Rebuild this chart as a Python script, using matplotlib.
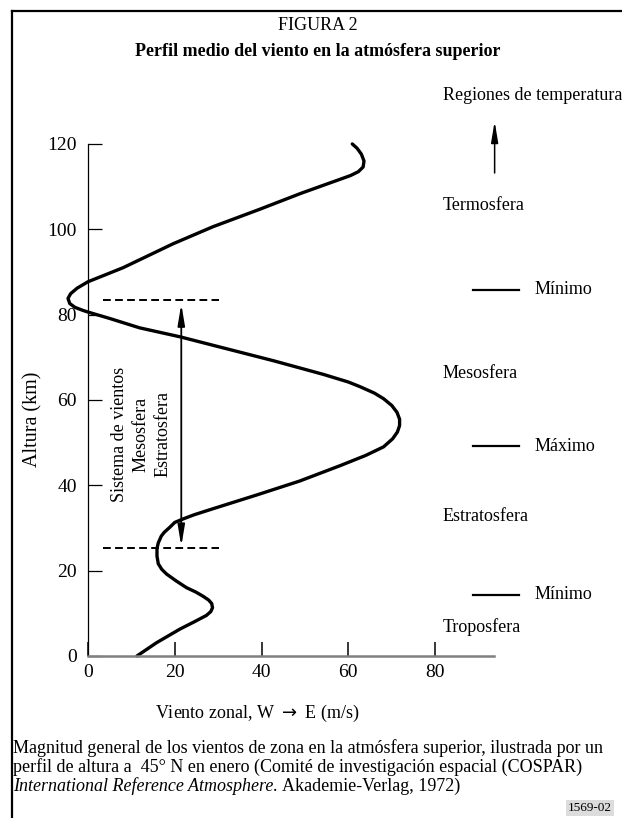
import matplotlib
matplotlib.use("Agg")
import matplotlib.pyplot as plt
from matplotlib.lines import Line2D

plt.rcParams['font.family'] = ['Liberation Serif', 'DejaVu Serif']

# mean zonal wind profile (m/s, W -> E) against height (km), traced from the bottom up
wind = [11.3, 15.8, 21.2, 24.5, 27.3, 28.3, 28.7, 28.5, 27.8, 26.5, 24.8, 22.7,
        20.3, 18.1, 17.0, 16.2, 15.9, 15.9, 16.2, 16.9, 17.6, 18.8, 20.0, 21.9,
        24.5, 28.8, 38.8, 48.8, 58.1, 64.0, 68.1, 70.2, 71.3, 71.8, 71.8, 71.2,
        70.0, 68.1, 66.0, 62.7, 60.0, 54.2, 42.7, 30.4, 21.2, 11.9, 5.0, 0.0,
        -1.2, -3.0, -4.2, -4.6, -4.0, -2.5, 0.0, 8.1, 19.6, 28.8, 39.6, 49.0,
        54.2, 57.5, 60.5, 62.3, 63.4, 63.6, 63.0, 62.0, 60.9]
height = [0.0, 3.1, 6.3, 8.0, 9.5, 10.4, 11.3, 12.3, 13.1, 14.0, 15.0, 16.0,
          17.6, 19.2, 20.3, 21.6, 23.4, 25.2, 26.5, 28.1, 29.0, 30.1, 31.3, 32.1,
          33.1, 34.5, 37.7, 41.0, 44.6, 47.0, 49.0, 50.9, 52.5, 54.0, 55.5, 57.1,
          58.7, 60.3, 61.6, 63.1, 64.2, 66.0, 69.2, 72.4, 74.8, 76.9, 79.1, 80.6,
          81.0, 81.7, 82.6, 83.8, 84.9, 86.2, 87.7, 91.0, 96.6, 100.6, 104.7, 108.4,
          110.3, 111.5, 112.6, 113.5, 114.6, 116.0, 117.6, 119.0, 120.0]

x_ticks = [0, 20, 40, 60, 80]
y_ticks = [0, 20, 40, 60, 80, 100, 120]

# stratosphere/mesosphere wind system limits (km)
system_bottom = 25.3
system_top = 83.5

# temperature regions on the right: (label, height)
regions = [("Termosfera", 105.5), ("Mesosfera", 66.3), ("Estratosfera", 32.6), ("Troposfera", 6.8)]
extremes = [("Mínimo", 85.8), ("Máximo", 49.2), ("Mínimo", 14.3)]

fs = 13

fig = plt.figure(figsize=(6.22, 8.18), dpi=100)
ax = fig.add_axes([0.0577, 0.1564, 0.935, 0.7615])
ax.set_xlim(-12, 122)
ax.set_ylim(-8, 138)
ax.patch.set_visible(False)

for side in ['top', 'right']:
    ax.spines[side].set_visible(False)
ax.spines['left'].set_position(('data', 0))
ax.spines['bottom'].set_position(('data', 0))
ax.spines['left'].set_bounds(0, 120)
ax.spines['bottom'].set_bounds(0, 93.5)
ax.spines['left'].set_linewidth(0.9)
ax.spines['bottom'].set_color('#808080')
ax.spines['bottom'].set_linewidth(1.8)

ax.set_xticks(x_ticks)
ax.set_yticks(y_ticks)
ax.tick_params(axis='x', direction='in', length=10, width=1.1, pad=6, labelsize=14)
ax.tick_params(axis='y', direction='in', length=10, width=0.9, pad=8, labelsize=14)

ax.plot(wind, height, color='black', lw=2.4, solid_joinstyle='round', solid_capstyle='round')

for h in (system_bottom, system_top):
    ax.plot([3.5, 30.2], [h, h], color='black', lw=1.4, ls=(0, (4, 2.2)))
ax.annotate('', xy=(21.5, system_bottom + 0.4), xytext=(21.5, system_top - 1.0),
            arrowprops=dict(arrowstyle='<|-|>,head_length=0.9,head_width=0.15',
                            mutation_scale=14, color='black', lw=1.3, shrinkA=0, shrinkB=0))

for xpos, label in [(7.2, "Sistema de vientos"), (12.2, "Mesosfera"), (17.2, "Estratosfera")]:
    ax.text(xpos, 52, label, rotation=90, ha='center', va='center', fontsize=fs)

ax.text(-12.6, 55.5, "Altura (km)", rotation=90, ha='center', va='center', fontsize=14.5)

# temperature regions column
ax.text(81.7, 131.4, "Regiones de temperatura", ha='left', va='center', fontsize=fs)
ax.annotate('', xy=(93.7, 125.3), xytext=(93.7, 113.2),
            arrowprops=dict(arrowstyle='-|>,head_length=0.9,head_width=0.15',
                            mutation_scale=14, color='black', lw=1.1, shrinkA=0, shrinkB=0))
for label, h in regions:
    ax.text(81.7, h, label, ha='left', va='center', fontsize=fs)
for label, h in extremes:
    ax.plot([88.8, 99.4], [h, h], color='black', lw=1.6, clip_on=False)
    ax.text(102.9, h, label, ha='left', va='center', fontsize=fs)

ax.text(39.0, -13.5, "Viento zonal, W $\\rightarrow$ E (m/s)", ha='center', va='center',
        fontsize=fs)

# frame around the figure
fig.add_artist(Line2D([12 / 622, 1.0], [1 - 11 / 818, 1 - 11 / 818], color='black', lw=1.6))
fig.add_artist(Line2D([12 / 622, 12 / 622], [0.0, 1 - 11 / 818], color='black', lw=1.6))

fig.text(318 / 622, 1 - 25 / 818, "FIGURA 2", ha='center', va='center', fontsize=fs)
fig.text(318 / 622, 1 - 52 / 818, "Perfil medio del viento en la atmósfera superior",
         ha='center', va='center', fontsize=fs, fontweight='bold')

cap_x = 13 / 622
fig.text(cap_x, 1 - 748 / 818,
         "Magnitud general de los vientos de zona en la atmósfera superior, ilustrada por un",
         ha='left', va='center', fontsize=fs)
fig.text(cap_x, 1 - 767 / 818,
         "perfil de altura a  45° N en enero (Comité de investigación espacial (COSPAR)",
         ha='left', va='center', fontsize=fs)
t_it = fig.text(cap_x, 1 - 786 / 818, "International Reference Atmosphere.",
                ha='left', va='center', fontsize=fs, style='italic')
renderer = fig.canvas.get_renderer()
bb = t_it.get_window_extent(renderer=renderer)
fig.text(bb.x1 / fig.bbox.width + 4 / 622, 1 - 786 / 818, "Akademie-Verlag, 1972)",
         ha='left', va='center', fontsize=fs)

fig.text(612 / 622, 1 - 808 / 818, "1569-02", ha='right', va='center', fontsize=9.5,
         bbox=dict(boxstyle='square,pad=0.15', facecolor='#dcdcdc', edgecolor='none'))

fig.savefig('out.png', dpi=100)
